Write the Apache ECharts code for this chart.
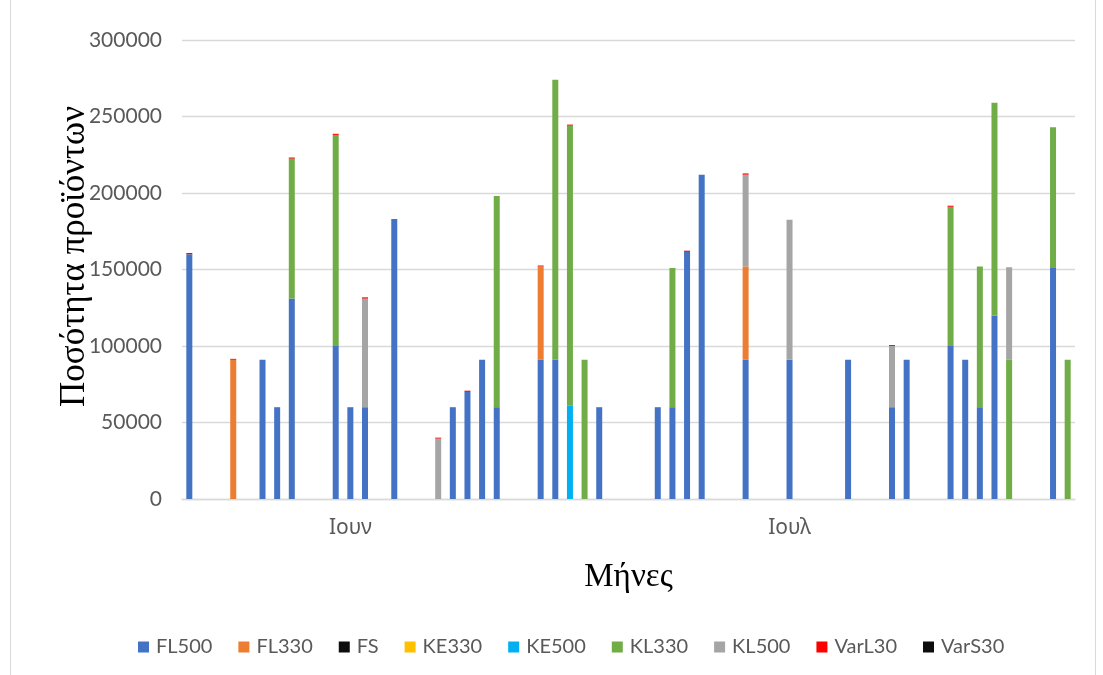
<!DOCTYPE html>
<html>
<head>
<meta charset="utf-8">
<script src="https://cdn.jsdelivr.net/npm/echarts@6/dist/echarts.min.js"></script>
<style>
  html, body { margin: 0; padding: 0; background: #ffffff; }
  #frame { position: absolute; left: 10px; top: -1px; width: 1086px; height: 690px; border: 1px solid #d9d9d9; box-sizing: border-box; }
  #chart { position: absolute; left: 0; top: 0; width: 1103px; height: 675px; }
</style>
</head>
<body>
<div id="frame"></div>
<div id="chart"></div>
<script>
// Month groups along the category axis (each slot is one entry of the pivot rows)
const monthNames = ['Ιουν', 'Ιουλ'];
const monthSlotCounts = [22, 39];

// Product series, stacked in this order
const seriesNames = ['FL500', 'FL330', 'FS', 'KE330', 'KE500', 'KL330', 'KL500', 'VarL30', 'VarS30'];

const FL500 = [
  160000, 0, 0, 0, 0, 91000, 60000, 131000, 0, 0,
  100000, 60000, 60000, 0, 183000, 0, 0, 0, 60000, 70000,
  91000, 60000, 0, 0, 91000, 91000, 0, 0, 60000, 0,
  0, 0, 60000, 60000, 161500, 212000, 0, 0, 91000, 0,
  0, 91000, 0, 0, 0, 91000, 0, 0, 60000, 91000,
  0, 0, 100000, 91000, 60000, 120000, 0, 0, 0, 151500,
  0
];
const FL330 = [
  0, 0, 0, 91000, 0, 0, 0, 0, 0, 0,
  0, 0, 0, 0, 0, 0, 0, 0, 0, 0,
  0, 0, 0, 0, 61000, 0, 0, 0, 0, 0,
  0, 0, 0, 0, 0, 0, 0, 0, 61000, 0,
  0, 0, 0, 0, 0, 0, 0, 0, 0, 0,
  0, 0, 0, 0, 0, 0, 0, 0, 0, 0,
  0
];
const FS = [
  0, 0, 0, 0, 0, 0, 0, 0, 0, 0,
  0, 0, 0, 0, 0, 0, 0, 0, 0, 0,
  0, 0, 0, 0, 0, 0, 0, 0, 0, 0,
  0, 0, 0, 0, 0, 0, 0, 0, 0, 0,
  0, 0, 0, 0, 0, 0, 0, 0, 0, 0,
  0, 0, 0, 0, 0, 0, 0, 0, 0, 0,
  0
];
const KE330 = [
  0, 0, 0, 0, 0, 0, 0, 0, 0, 0,
  0, 0, 0, 0, 0, 0, 0, 0, 0, 0,
  0, 0, 0, 0, 0, 0, 0, 0, 0, 0,
  0, 0, 0, 0, 0, 0, 0, 0, 0, 0,
  0, 0, 0, 0, 0, 0, 0, 0, 0, 0,
  0, 0, 0, 0, 0, 0, 0, 0, 0, 0,
  0
];
const KE500 = [
  0, 0, 0, 0, 0, 0, 0, 0, 0, 0,
  0, 0, 0, 0, 0, 0, 0, 0, 0, 0,
  0, 0, 0, 0, 0, 0, 61000, 0, 0, 0,
  0, 0, 0, 0, 0, 0, 0, 0, 0, 0,
  0, 0, 0, 0, 0, 0, 0, 0, 0, 0,
  0, 0, 0, 0, 0, 0, 0, 0, 0, 0,
  0
];
const KL330 = [
  0, 0, 0, 0, 0, 0, 0, 91500, 0, 0,
  138000, 0, 0, 0, 0, 0, 0, 0, 0, 0,
  0, 138000, 0, 0, 0, 183000, 183000, 91000, 0, 0,
  0, 0, 0, 91000, 0, 0, 0, 0, 0, 0,
  0, 0, 0, 0, 0, 0, 0, 0, 0, 0,
  0, 0, 91000, 0, 92000, 139000, 91000, 0, 0, 91500,
  91000
];
const KL500 = [
  0, 0, 0, 0, 0, 0, 0, 0, 0, 0,
  0, 0, 71000, 0, 0, 0, 0, 39500, 0, 0,
  0, 0, 0, 0, 0, 0, 0, 0, 0, 0,
  0, 0, 0, 0, 0, 0, 0, 0, 60000, 0,
  0, 91500, 0, 0, 0, 0, 0, 0, 40000, 0,
  0, 0, 0, 0, 0, 0, 60500, 0, 0, 0,
  0
];
const VarL30 = [
  800, 0, 0, 600, 0, 0, 0, 700, 0, 0,
  700, 0, 800, 0, 0, 0, 0, 600, 0, 800,
  0, 0, 0, 0, 600, 0, 700, 0, 0, 0,
  0, 0, 0, 0, 800, 0, 0, 0, 800, 0,
  0, 0, 0, 0, 0, 0, 0, 0, 600, 0,
  0, 0, 700, 0, 0, 0, 0, 0, 0, 0,
  0
];
const VarS30 = [
  0, 0, 0, 0, 0, 0, 0, 0, 0, 0,
  0, 0, 0, 0, 0, 0, 0, 0, 0, 0,
  0, 0, 0, 0, 0, 0, 0, 0, 0, 0,
  0, 0, 0, 0, 0, 0, 0, 0, 0, 0,
  0, 0, 0, 0, 0, 0, 0, 0, 0, 0,
  0, 0, 0, 0, 0, 0, 0, 0, 0, 0,
  0
];

// Y axis ticks
const yTicks = [0, 50000, 100000, 150000, 200000, 250000, 300000];

const seriesValues = [FL500, FL330, FS, KE330, KE500, KL330, KL500, VarL30, VarS30];
const seriesColors = ['#4472C4', '#ED7D31', '#0D0D0D', '#FFC000', '#00B0F0', '#70AD47', '#A5A5A5', '#FF0000', '#0D0D0D'];

// Build slot categories and the month of each slot; the month name sits at the middle slot of its run
const slotMonth = [];
const monthLabelSlots = {};
let start = 0;
monthSlotCounts.forEach((count, m) => {
  for (let i = 0; i < count; i++) slotMonth.push(monthNames[m]);
  monthLabelSlots[Math.round(start + (count - 1) / 2)] = monthNames[m];
  start += count;
});
const categories = slotMonth.map((m, i) => m + ' ' + (i + 1));

const labelFont = 'Lato, "Liberation Sans", sans-serif';
const greekLabelFont = '"Noto Sans", "Open Sans", sans-serif';
const serifFont = '"Liberation Serif", "DejaVu Serif", serif';

const chart = echarts.init(document.getElementById('chart'), null, { renderer: 'canvas' });

chart.setOption({
  animation: false,
  backgroundColor: 'transparent',
  grid: { left: 182, right: 28, top: 40, bottom: 176, containLabel: false },
  legend: {
    data: seriesNames,
    left: 133,
    top: 632,
    itemWidth: 11,
    itemHeight: 11,
    itemGap: 26,
    icon: 'rect',
    textStyle: { fontFamily: labelFont, fontSize: 20, color: '#595959', padding: [0, 0, 0, 2] }
  },
  xAxis: {
    type: 'category',
    data: categories,
    boundaryGap: true,
    axisLine: { lineStyle: { color: '#D9D9D9', width: 1.3 } },
    axisTick: { show: false },
    axisLabel: {
      interval: (index) => monthLabelSlots[index] !== undefined,
      formatter: (value, index) => monthLabelSlots[index] || '',
      fontFamily: greekLabelFont,
      fontSize: 21,
      color: '#595959',
      margin: 19
    },
    name: 'Μήνες',
    nameLocation: 'middle',
    nameGap: 62,
    nameTextStyle: { fontFamily: serifFont, fontSize: 33, color: '#000000' }
  },
  yAxis: {
    type: 'value',
    min: yTicks[0],
    max: yTicks[yTicks.length - 1],
    interval: yTicks[1] - yTicks[0],
    axisLine: { show: false },
    axisTick: { show: false },
    splitLine: { lineStyle: { color: '#D9D9D9', width: 1.3 } },
    axisLabel: {
      fontFamily: labelFont, fontSize: 21, color: '#595959', margin: 20,
      formatter: (v) => String(v)
    },
    name: 'Ποσότητα προϊόντων',
    nameLocation: 'middle',
    nameMoveOverlap: false,
    nameGap: 90,
    nameRotate: 90,
    nameTextStyle: { fontFamily: serifFont, fontSize: 35, color: '#000000', padding: [0, 0, 0, 26] }
  },
  series: seriesNames.map((name, i) => ({
    name: name,
    type: 'bar',
    stack: 'total',
    barWidth: 6,
    data: seriesValues[i],
    itemStyle: { color: seriesColors[i] },
    emphasis: { disabled: true }
  }))
});
</script>
</body>
</html>
